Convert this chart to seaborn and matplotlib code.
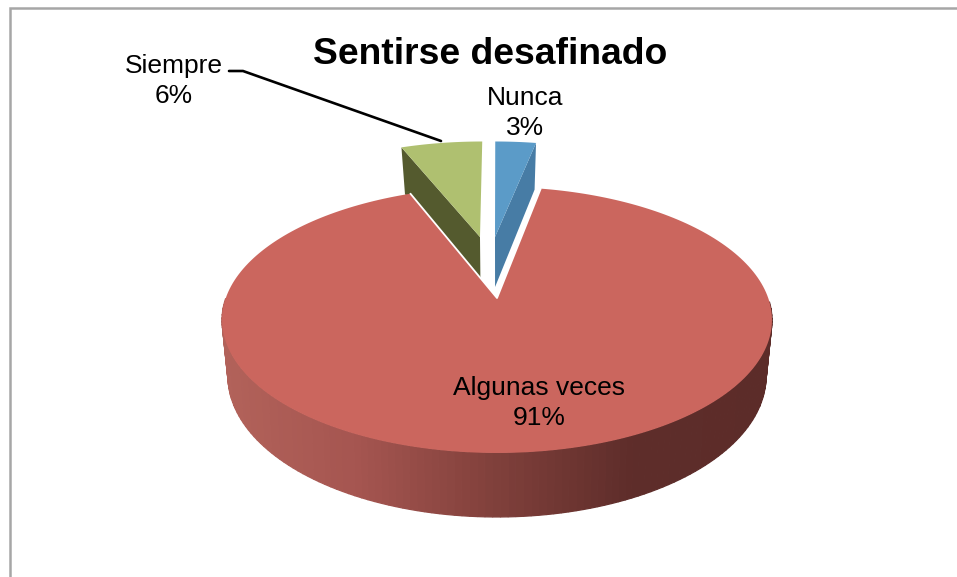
import numpy as np
import matplotlib
matplotlib.use('Agg')
import matplotlib.pyplot as plt
import seaborn as sns

title = 'Sentirse desafinado'
categories = ['Nunca', 'Algunas veces', 'Siempre']
values = [3, 91, 6]

top_colors = ['#5B9BC8', '#CB665E', '#AFC070']
cut_colors = ['#477CA5', '#CB665E', '#545A2E']
side_stops = ['#B2625A', '#A55550', '#80403B', '#5E2D2A', '#5C2C29']

# slice pulled out of the pie, in units of the radius (sideways, towards the back)
explode = [(-0.008, -0.511), (0, 0), (-0.068, -0.511)]
label_pos = [(525, 113), (539, 403), (174, 81)]


def project(u, v, plane):
    # perspective of the unit circle: plane is (half width, y of centre, b, k)
    a, y0, b, k = plane
    w = 1 - k * v
    return 497 + a * u / w, y0 + b * v / w


top_plane = (271.2, 298, 129.4, 0.165)
bottom_plane = (264.8, 351, 136.6, 0.177)


def outline(start, end, shift, plane):
    # apex, then the rim clockwise from 12 o'clock
    th = np.radians(np.linspace(start, end, 240)) * 3.6
    u = np.concatenate([[0], np.sin(th)]) + shift[0]
    v = np.concatenate([[0], -np.cos(th)]) + shift[1]
    return project(u, v, plane)


sns.set_theme(style='white')
plt.rcParams['font.family'] = ['Liberation Sans', 'DejaVu Sans']

fig = plt.figure(figsize=(9.57, 5.77), dpi=100)
ax = fig.add_axes([0, 0, 1, 1])
ax.set_xlim(0, 957)
ax.set_ylim(577, 0)
ax.axis('off')

# frame of the chart, only top and left are in the picture
ax.plot([10, 10, 957], [577, 8, 8], color='#A6A6A6', lw=1.8, solid_joinstyle='miter')

edges = np.cumsum([0] + values)

# pulled out slices first, the big one covers their lower part
for i in [2, 0]:
    xt, yt = outline(edges[i], edges[i + 1], explode[i], top_plane)
    xb, yb = outline(edges[i], edges[i + 1], explode[i], bottom_plane)
    j = -1 if i == 0 else 1
    ax.fill([xt[0], xt[j], xb[j], xb[0]], [yt[0], yt[j], yb[j], yb[0]],
            color=cut_colors[i], lw=0)
    ax.fill(xt, yt, color=top_colors[i], lw=0)

# rim of the big slice, the back part is hidden so skip it
xt, yt = outline(edges[1], edges[2], explode[1], top_plane)
xb, yb = outline(edges[1], edges[2], explode[1], bottom_plane)
shades = sns.blend_palette(side_stops, n_colors=256)
for n in range(1, len(xt) - 1):
    if yt[n] < 300:
        continue
    t = np.clip((xt[n] - 222) / 550, 0, 1)
    c = shades[int(t * 255)]
    ax.fill([xt[n], xt[n + 1], xb[n + 1], xb[n]], [yt[n], yt[n + 1], yb[n + 1], yb[n]],
            facecolor=c, edgecolor=c, lw=0.9)
ax.fill(xt, yt, color=top_colors[1], lw=0)
ax.plot([xt[1], xt[0], xt[-1]], [yt[1], yt[0], yt[-1]], color='white', lw=1.3)

ax.text(490, 54, title, ha='center', va='center', fontsize=26.8, fontweight='bold', color='black')

for name, val, pos in zip(categories, values, label_pos):
    ax.text(pos[0], pos[1], f'{name}\n{val}%', ha='center', va='center',
            fontsize=19, linespacing=1.3, color='black')

# leader of Siempre
ax.plot([229, 243, 441], [71, 71, 141], color='black', lw=1.9)

fig.savefig('out.png', dpi=100)
